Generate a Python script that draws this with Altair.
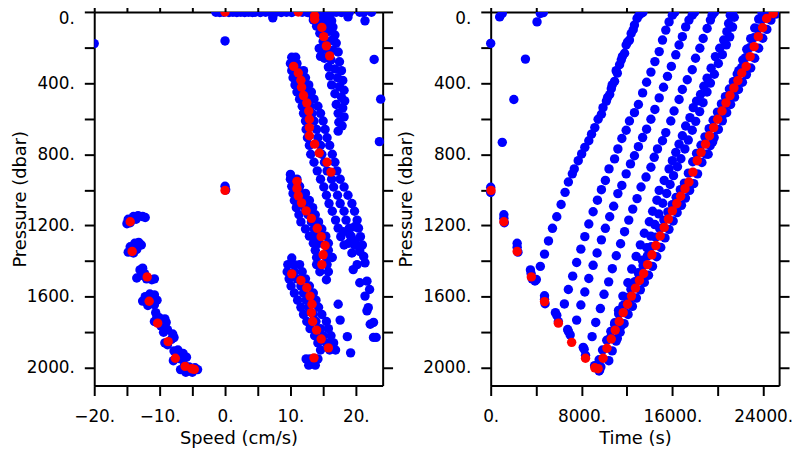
import altair as alt
import pandas as pd

# ---------------- LEFT PANEL: speed (cm/s) vs pressure (dbar) ----------------
left_top_row = [(-1.4, 2), (-0.8, 3), (-0.2, 2), (0.6, 3), (1.2, 2), (1.8, 3), (2.4, 2), (3.0, 3),
                (3.6, 2), (4.2, 3), (4.6, 2), (5.4, 3), (6.2, 2), (7.0, 3), (7.8, 2), (8.6, 3),
                (9.4, 2), (10.2, 3), (11.8, 2), (12.6, 3), (15.6, 2), (16.4, 3), (17.0, 2),
                (17.8, 3), (18.6, 2), (19.0, 3), (20.6, 2), (21.2, 3), (22.4, 2)]
left_scatter = [(7.3, 33), (18.8, 28), (21.4, 50), (0.0, 163), (-20.0, 178), (22.8, 267),
                (23.8, 490), (23.6, 729), (0.0, 980), (0.1, 1000)]
left_cluster_a = [(13.2, 10), (14.0, 15), (15.0, 10), (16.0, 12), (13.5, 45), (14.5, 40), (15.5, 35),
                  (16.3, 50), (14.0, 80), (15.5, 75), (16.5, 85), (14.5, 120), (15.8, 110), (16.8, 130),
                  (15.0, 165), (16.3, 160), (17.0, 175), (14.4, 205), (15.3, 210), (16.5, 215),
                  (17.3, 225), (14.6, 250), (15.2, 260), (16.2, 270), (17.5, 280), (15.8, 310),
                  (16.8, 320), (17.8, 330), (16.0, 360), (17.2, 370), (18.0, 385), (16.3, 410),
                  (17.5, 420), (18.2, 440), (16.8, 460), (17.8, 480), (18.3, 500), (17.0, 520),
                  (18.0, 540), (17.3, 570), (18.2, 590), (17.4, 620), (17.9, 640), (17.3, 670)]
left_cluster_b = [(10.2, 255), (10.8, 255), (10.0, 290), (11.0, 290), (10.2, 330), (11.3, 330), (12.0, 330),
                  (10.4, 370), (11.5, 370), (12.3, 370), (10.7, 410), (11.8, 410), (12.8, 410),
                  (11.0, 450), (12.2, 450), (13.2, 450), (11.4, 490), (12.6, 490), (13.6, 490),
                  (11.8, 530), (13.0, 530), (14.2, 530), (12.0, 570), (13.3, 570), (14.6, 570),
                  (12.3, 613), (13.6, 613), (15.0, 613), (12.4, 660), (14.0, 660), (15.3, 660),
                  (12.6, 707), (14.2, 707), (15.6, 707), (12.9, 750), (14.6, 750), (16.0, 750),
                  (13.1, 800), (14.8, 800), (16.4, 800), (13.6, 845), (15.2, 845), (16.8, 845),
                  (14.1, 893), (15.6, 893), (17.1, 893), (14.6, 940), (16.3, 940), (17.6, 940),
                  (15.1, 984), (16.6, 984), (18.2, 984), (15.5, 1030), (17.2, 1030), (18.8, 1030),
                  (15.9, 1077), (17.6, 1077), (19.4, 1077), (16.4, 1120), (18.2, 1120), (19.8, 1120),
                  (16.9, 1170), (18.5, 1170), (20.2, 1170), (17.3, 1215), (19.0, 1215), (20.4, 1215),
                  (17.7, 1263), (19.3, 1263), (20.7, 1263), (18.2, 1310), (19.8, 1310), (21.0, 1310),
                  (20.6, 1330)]
left_cluster_c = [(10.0, 913), (10.0, 940), (11.0, 940), (10.2, 980), (11.4, 980), (10.4, 1020), (11.5, 1020),
                  (12.3, 1020), (10.6, 1060), (11.8, 1060), (12.9, 1060), (10.9, 1100), (12.2, 1100),
                  (13.4, 1100), (11.3, 1140), (12.7, 1140), (13.8, 1140), (11.6, 1180), (13.2, 1180),
                  (14.3, 1180), (12.3, 1220), (13.6, 1220), (14.8, 1220), (12.9, 1260), (14.0, 1260),
                  (15.4, 1260), (13.5, 1300), (14.4, 1300), (15.8, 1300), (13.8, 1340), (15.8, 1340),
                  (14.0, 1380), (15.5, 1380), (16.4, 1380), (14.0, 1420), (15.6, 1420), (14.5, 1460),
                  (15.8, 1460), (15.5, 1505)]
left_cluster_d = [(10.2, 1383), (9.6, 1420), (10.6, 1420), (11.4, 1420), (9.5, 1460), (10.6, 1460),
                  (11.8, 1460), (9.8, 1500), (11.0, 1500), (12.3, 1500), (10.1, 1540), (11.6, 1540),
                  (12.9, 1540), (10.6, 1580), (12.0, 1580), (13.5, 1580), (11.1, 1620), (12.4, 1620),
                  (13.9, 1620), (11.6, 1660), (12.8, 1660), (14.3, 1660), (12.0, 1700), (13.5, 1700),
                  (14.8, 1700), (12.5, 1740), (13.9, 1740), (15.5, 1740), (13.0, 1780), (14.6, 1780),
                  (15.8, 1780), (13.7, 1820), (15.0, 1820), (16.2, 1820), (14.2, 1860), (15.5, 1860),
                  (16.6, 1860), (14.6, 1900), (16.0, 1900), (16.9, 1900), (12.4, 1950), (13.0, 1950),
                  (14.2, 1950), (12.8, 1985), (13.8, 1985), (17.3, 1643), (17.6, 1732), (18.7, 1825),
                  (19.2, 1916)]
left_cluster_e = [(19.8, 1207), (18.1, 1235), (19.1, 1253), (18.9, 1300), (19.9, 1290), (19.4, 1355),
                  (20.6, 1346), (21.2, 1374), (20.2, 1420), (21.4, 1410), (19.6, 1448), (20.6, 1522),
                  (21.7, 1513), (22.1, 1560), (21.4, 1597), (21.9, 1662), (21.7, 1680), (22.2, 1755),
                  (22.7, 1745), (22.7, 1829), (23.1, 1829)]
left_negative = [(-15.0, 1190), (-14.8, 1165), (-14.0, 1150), (-13.3, 1145), (-12.6, 1150), (-12.2, 1155),
                 (-13.6, 1165), (-14.5, 1185),
                 (-14.8, 1350), (-14.5, 1320), (-13.8, 1300), (-13.2, 1295), (-12.8, 1310), (-13.5, 1335),
                 (-14.0, 1355),
                 (-13.5, 1495), (-13.0, 1450), (-12.6, 1440), (-12.8, 1480), (-12.0, 1500), (-11.2, 1505),
                 (-10.8, 1500), (-12.3, 1470),
                 (-12.6, 1625), (-12.2, 1600), (-11.5, 1585), (-10.8, 1590), (-10.4, 1620), (-10.8, 1645),
                 (-11.8, 1650), (-12.0, 1630),
                 (-10.6, 1690), (-10.8, 1740), (-10.0, 1720), (-9.2, 1725), (-9.0, 1745), (-9.8, 1765),
                 (-10.4, 1710),
                 (-9.4, 1800), (-8.8, 1785), (-8.0, 1810), (-8.2, 1840), (-9.2, 1860), (-7.8, 1830),
                 (-8.8, 1870),
                 (-7.8, 1905), (-7.2, 1900), (-6.4, 1920), (-5.9, 1940), (-6.8, 1950), (-7.9, 1960),
                 (-7.0, 1930),
                 (-6.8, 2010), (-6.2, 1985), (-5.5, 1995), (-4.6, 2000), (-4.2, 2010), (-5.0, 2025),
                 (-6.0, 2025)]
left_red = [(0.0, 0), (11.2, 0), (0.0, 1003),
            (-14.5, 1179), (-14.2, 1346), (-11.9, 1489), (-11.6, 1626), (-10.3, 1749), (-8.7, 1853),
            (-7.6, 1946), (-6.1, 1992), (-5.1, 2005), (-4.7, 2009),
            (13.6, 1944), (15.8, 1888), (14.7, 1838), (14.0, 1788), (13.4, 1740), (13.2, 1690),
            (13.3, 1643), (13.0, 1597), (12.5, 1550), (11.6, 1509), (10.2, 1472),
            (14.8, 1420), (15.0, 1365), (15.3, 1313), (14.7, 1263), (14.1, 1216), (13.2, 1160),
            (12.4, 1118), (11.7, 1073), (11.2, 1034), (11.0, 993), (11.0, 952),
            (16.2, 900), (15.6, 845), (14.4, 793), (13.7, 743), (12.9, 696), (12.9, 650), (12.9, 603),
            (12.8, 557), (12.5, 511), (12.0, 470), (11.7, 423), (11.6, 384), (11.2, 343), (10.5, 306),
            (16.0, 247), (15.5, 191), (15.1, 139), (14.8, 87), (13.7, 41), (13.7, 22)]

# ---------------- RIGHT PANEL: time (s) vs pressure (dbar) ----------------
right_isolated = [(0, 177), (790, 28), (1020, 9), (4080, 56), (4370, 9), (4630, 4), (3060, 265),
                  (2040, 492), (1020, 733), (0, 985), (0, 1015)]
right_descent = [(1160, 1140), (1160, 1160), (1200, 1185), (2330, 1300), (2330, 1322), (2400, 1350),
                 (3500, 1450), (3560, 1470), (3650, 1500), (3900, 1512), (4740, 1595), (4740, 1615),
                 (4790, 1640), (5700, 1690), (5820, 1705), (5960, 1740), (6780, 1785), (6840, 1795),
                 (7000, 1815), (8150, 1885), (8230, 1895), (8350, 1930), (9150, 1988), (9400, 2002),
                 (9600, 2012), (9700, 1995), (9550, 2018)]
line1 = [(13400, 3), (13240, 9), (12890, 37), (12660, 74), (12370, 121), (12220, 158), (11930, 186),
         (11790, 232), (11500, 269), (11350, 297), (11150, 344), (10910, 390), (10620, 431),
         (10480, 464), (10190, 501), (9890, 538), (9750, 575), (9460, 603), (9170, 650), (8880, 687),
         (8640, 724), (8290, 761), (8010, 798), (7710, 836), (7360, 882), (7190, 910), (6840, 956),
         (6550, 1014), (6200, 1082), (5820, 1151), (5440, 1216), (5090, 1287), (4740, 1361),
         (4370, 1430), (4020, 1504),
         (13050, 20), (12550, 100), (12050, 170), (11600, 250), (11050, 330), (10700, 410), (10300, 480)]
line2 = [(16200, 3), (16000, 18), (15710, 56), (15420, 102), (15130, 158), (14840, 223), (14460, 279),
         (14110, 338), (13730, 395), (13380, 455), (13010, 520), (12660, 566), (12220, 613),
         (11930, 665), (11550, 711), (11200, 770), (10910, 826), (10420, 882), (10100, 947),
         (9750, 999), (9400, 1058), (9020, 1123), (8640, 1192), (8290, 1263), (7940, 1333),
         (7570, 1408), (7220, 1485), (6840, 1560), (6490, 1641)]
line3 = [(17950, 3), (17750, 18), (17460, 46), (17170, 84), (16880, 139), (16590, 186), (16300, 241),
         (15910, 306), (15570, 362), (15220, 423), (14840, 483), (14460, 548), (14110, 603),
         (13730, 659), (13380, 706), (13010, 757), (12660, 808), (12310, 854), (11930, 910),
         (11550, 975), (11200, 1021), (10830, 1092), (10480, 1151), (10100, 1216), (9750, 1281),
         (9370, 1355), (9020, 1424), (8640, 1498), (8290, 1574), (7940, 1647), (7570, 1732)]
line4 = [(19700, 3), (19500, 18), (19350, 46), (19060, 93), (18710, 149), (18420, 204), (18040, 260),
         (17750, 325), (17310, 381), (16880, 436), (16590, 492), (16150, 557), (15860, 613),
         (15420, 678), (15130, 724), (14690, 770), (14400, 817), (14110, 873), (13680, 928),
         (13240, 984), (12890, 1049), (12510, 1108), (12160, 1170), (11790, 1235), (11440, 1303),
         (11060, 1370), (10710, 1443), (10390, 1517), (9980, 1587), (9660, 1667), (9250, 1745),
         (8930, 1825)]
line5 = [(21300, 3), (21100, 18), (20950, 65), (20800, 111), (20520, 158), (20170, 204), (19790, 251),
         (19410, 316), (19060, 372), (18770, 418), (18480, 464), (18130, 501), (17840, 538),
         (17550, 594), (17170, 641), (16880, 696), (16590, 743), (16300, 789), (16000, 836),
         (15710, 882), (15280, 947), (14840, 1003), (14640, 1058), (14260, 1120), (13970, 1179),
         (13530, 1244), (13180, 1309), (12810, 1374), (12420, 1445), (12080, 1522), (11640, 1597),
         (11260, 1677), (10910, 1755), (10560, 1829)]
line5b = [(21450, 30), (21300, 85), (21050, 140), (20750, 185), (20400, 240), (20050, 290), (19700, 350),
          (19350, 400), (19050, 450), (18700, 510), (18400, 560), (18050, 615), (17750, 665),
          (17400, 720), (17100, 770), (16750, 825), (16450, 870), (16100, 920), (15800, 970),
          (15500, 1020), (15150, 1075), (14800, 1135), (14450, 1195), (14100, 1260), (13750, 1325),
          (13350, 1395), (13000, 1465), (12600, 1535), (12250, 1610), (11850, 1690), (11500, 1765),
          (11150, 1835)]
line6 = [(23900, 5), (23600, 40), (23250, 90), (22900, 150), (22550, 210), (22200, 270), (21850, 330),
         (21500, 390), (21150, 450), (20750, 520), (20350, 590), (19950, 660), (19550, 730),
         (19150, 800)]
band_right = [(10400, 1960), (10700, 1905), (11050, 1850), (11400, 1800), (11750, 1752), (12100, 1700),
              (12480, 1655), (12830, 1608), (13180, 1562), (13530, 1520), (13900, 1480), (14250, 1430),
              (14620, 1376), (14980, 1324), (15350, 1270), (15700, 1222), (16070, 1175), (16420, 1128),
              (16800, 1087), (17150, 1046), (17520, 1003), (17880, 965), (18220, 910), (18600, 846),
              (18950, 799), (19330, 752), (19680, 706), (20050, 660), (20400, 612), (20780, 566),
              (21130, 520), (21470, 479), (21820, 436), (22170, 395), (22520, 352), (22900, 315),
              (23250, 260), (23600, 204), (23960, 148), (24320, 98), (24680, 46), (25100, 12)]
band_left = [(9550, 1955), (9850, 1900), (10220, 1845), (10580, 1795), (10920, 1747), (11270, 1697),
             (11650, 1650), (12000, 1604), (12350, 1558), (12700, 1516), (13070, 1477), (13420, 1426),
             (13800, 1371), (14150, 1319), (14530, 1266), (14880, 1217), (15250, 1170), (15600, 1124),
             (15990, 1083), (16330, 1042), (16700, 999), (17060, 962), (17410, 906), (17790, 842),
             (18130, 795), (18520, 749), (18870, 702), (19240, 656), (19590, 609), (19970, 563),
             (20320, 517), (20670, 476), (21020, 433), (21370, 392), (21710, 349), (22100, 312),
             (22450, 257), (22800, 201), (23170, 145), (23550, 95), (23900, 43), (24480, 15)]
right_red = [(30, 1003), (1160, 1179), (2330, 1346), (3580, 1489), (4740, 1628), (5960, 1749),
             (7130, 1857), (8350, 1946), (9170, 2000), (9460, 2005),
             (9900, 1946), (10240, 1890), (10620, 1838), (10970, 1788), (11320, 1740), (11670, 1690),
             (12050, 1643), (12400, 1597), (12750, 1552), (13100, 1509), (13470, 1470), (13820, 1420),
             (14200, 1365), (14550, 1313), (14930, 1259), (15280, 1211), (15650, 1164), (16000, 1118),
             (16390, 1077), (16730, 1036), (17110, 993), (17460, 956), (17810, 900), (18190, 836),
             (18530, 789), (18920, 743), (19270, 696), (19640, 650), (19990, 603), (20370, 557),
             (20720, 511), (21070, 470), (21420, 427), (21770, 386), (22110, 343), (22500, 306),
             (22850, 251), (23200, 195), (23570, 139), (23950, 89), (24300, 37), (24880, 9)]

# ---------------- axes ----------------
pressure_ticks = [0, 200, 400, 600, 800, 1000, 1200, 1400, 1600, 1800, 2000]
speed_ticks = [-20, -15, -10, -5, 0, 5, 10, 15, 20]
time_ticks = [0, 4000, 8000, 12000, 16000, 20000, 24000]

left_blue = (left_top_row + left_scatter + left_cluster_a + left_cluster_b + left_cluster_c
             + left_cluster_d + left_cluster_e + left_negative)
right_blue = (right_isolated + right_descent + line1 + line2 + line3 + line4 + line5 + line5b
              + line6 + band_right + band_left)

lb = pd.DataFrame(left_blue, columns=["v", "pressure"])
lr = pd.DataFrame(left_red, columns=["v", "pressure"])
rb = pd.DataFrame(right_blue, columns=["v", "pressure"])
rr = pd.DataFrame(right_red, columns=["v", "pressure"])

BLUE = "#0000ff"
RED = "#ff0000"
DOT = 90
INK = "#000000"

# two panels share one view; each panel has its own x scale over its own pixel range
PANEL_W = 291
GAP = 109
TOTAL_W = 2 * PANEL_W + GAP
H = 377

y_label_expr = "datum.value % 400 == 0 ? format(datum.value, 'd') + '.' : ''"
speed_label_expr = ("datum.value % 10 == 0 ? (datum.value < 0 ? '\u2212' + format(-datum.value, 'd') "
                    ": format(datum.value, 'd')) + '.' : ''")
time_label_expr = "datum.value % 8000 == 0 ? format(datum.value, 'd') + '.' : ''"
zero_shift = {"condition": {"test": "datum.value == 0", "value": 7}, "value": 0}

ys = alt.Scale(domain=[0, 2100], reverse=True, nice=False, zero=False)
xs_left = alt.Scale(domain=[-20, 24.1], range=[0, PANEL_W], nice=False, zero=False)
xs_right = alt.Scale(domain=[0, 25400], range=[PANEL_W + GAP, TOTAL_W], nice=False, zero=False)


def bottom_axis(ticks, expr, title):
    return alt.Axis(orient="bottom", values=ticks, labelExpr=expr, title=title, tickSize=10,
                    labelPadding=26, labelBaseline="alphabetic", labelFlush=False, labelOverlap=False,
                    titleY=58, titleBaseline="alphabetic")


def top_axis(ticks):
    return alt.Axis(orient="top", values=ticks, labels=False, title=None, tickSize=10)


def left_axis(offset, title_x):
    return alt.Axis(orient="left", offset=offset, values=pressure_ticks, labelExpr=y_label_expr,
                    title="Pressure (dbar)", tickSize=10, labelPadding=10, labelFlush=False,
                    labelOverlap=False, labelOffset=zero_shift, titleX=title_x, titleY=H / 2,
                    titleAngle=270, titleAlign="center", titleBaseline="alphabetic")


def right_axis(offset):
    return alt.Axis(orient="right", offset=offset, values=pressure_ticks, labels=False, title=None,
                    tickSize=10)


left_blue_layer = alt.Chart(lb).mark_circle(size=DOT, color=BLUE, opacity=1, clip=True).encode(
    x=alt.X("v:Q", scale=xs_left, axis=bottom_axis(speed_ticks, speed_label_expr, "Speed (cm/s)")),
    y=alt.Y("pressure:Q", scale=ys, axis=left_axis(0, -69)),
)
left_red_layer = alt.Chart(lr).mark_circle(size=DOT, color=RED, opacity=1, clip=True).encode(
    x=alt.X("v:Q", scale=xs_left, axis=top_axis(speed_ticks)),
    y=alt.Y("pressure:Q", scale=ys, axis=right_axis(-(TOTAL_W - PANEL_W))),
)
right_blue_layer = alt.Chart(rb).mark_circle(size=DOT, color=BLUE, opacity=1, clip=True).encode(
    x=alt.X("v:Q", scale=xs_right, axis=bottom_axis(time_ticks, time_label_expr, "Time (s)")),
    y=alt.Y("pressure:Q", scale=ys, axis=left_axis(-(PANEL_W + GAP), -80)),
)
right_red_layer = alt.Chart(rr).mark_circle(size=DOT, color=RED, opacity=1, clip=True).encode(
    x=alt.X("v:Q", scale=xs_right, axis=top_axis(time_ticks)),
    y=alt.Y("pressure:Q", scale=ys, axis=right_axis(0)),
)

chart = alt.layer(left_blue_layer, left_red_layer, right_blue_layer, right_red_layer).resolve_scale(
    x="independent"
).resolve_axis(
    x="independent", y="independent"
).properties(
    width=TOTAL_W, height=H,
    autosize=alt.AutoSizeParams(type="none"),
    padding={"left": 87, "top": 2, "right": 13, "bottom": 63},
).configure_view(stroke="transparent").configure_axis(
    labelFont="DejaVu Sans", labelFontSize=17, labelColor=INK,
    titleFont="DejaVu Sans", titleFontSize=18, titleFontWeight="normal", titleColor=INK,
    tickColor=INK, tickWidth=2, domain=True, domainColor=INK, domainWidth=2,
    grid=False,
)

chart.save("out.html", embed_options={"renderer": "svg", "actions": False})
